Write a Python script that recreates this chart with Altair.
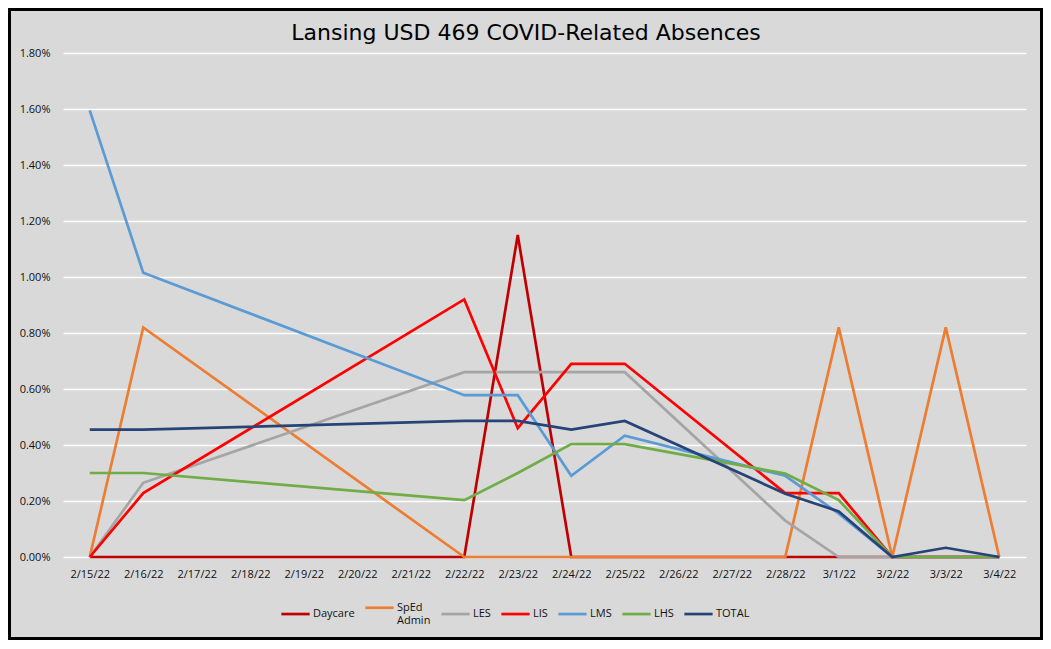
import altair as alt
import pandas as pd

chart_title = "Lansing USD 469 COVID-Related Absences"

all_dates = ["2/15/22", "2/16/22", "2/17/22", "2/18/22", "2/19/22", "2/20/22",
             "2/21/22", "2/22/22", "2/23/22", "2/24/22", "2/25/22", "2/26/22",
             "2/27/22", "2/28/22", "3/1/22", "3/2/22", "3/3/22", "3/4/22"]
obs_dates = ["2/15/22", "2/16/22", "2/22/22", "2/23/22", "2/24/22", "2/25/22",
             "2/28/22", "3/1/22", "3/2/22", "3/3/22", "3/4/22"]

series = ["Daycare", "SpEd Admin", "LES", "LIS", "LMS", "LHS", "TOTAL"]
colors = ["#c00000", "#ed7d31", "#a5a5a5", "#ff0000", "#5b9bd5", "#70ad47", "#264478"]
widths = [2.7, 2.7, 2.7, 2.7, 2.7, 2.7, 4.4]

# values in percent
daycare = [0, 0, 0, 1.15, 0, 0, 0, 0, 0, 0, 0]
sped_admin = [0, 0.82, 0, 0, 0, 0, 0, 0.82, 0, 0.82, 0]
les = [0, 0.265, 0.66, 0.66, 0.66, 0.66, 0.13, 0, 0, 0, 0]
lis = [0, 0.228, 0.92, 0.46, 0.69, 0.69, 0.228, 0.228, 0, 0, 0]
lms = [1.595, 1.015, 0.578, 0.578, 0.29, 0.433, 0.29, 0.155, 0, 0, 0]
lhs = [0.30, 0.30, 0.203, 0.30, 0.403, 0.403, 0.298, 0.203, 0, 0, 0]
total = [0.455, 0.455, 0.486, 0.486, 0.455, 0.486, 0.226, 0.163, 0, 0.033, 0]

y_ticks = [0, 0.002, 0.004, 0.006, 0.008, 0.010, 0.012, 0.014, 0.016, 0.018]

rows = []
for s_i, (name, vals) in enumerate(zip(series, [daycare, sped_admin, les, lis, lms, lhs, total])):
    for d, v in zip(obs_dates, vals):
        rows.append({"series": name, "date": d, "value": v / 100.0,
                     "sidx": s_i, "order": all_dates.index(d)})
df = pd.DataFrame(rows)

font = "Open Sans"

legend_kw = dict(title=None, orient="none", legendX=217, legendY=539,
                 direction="horizontal", columns=7,
                 symbolType="stroke", symbolSize=800, labelOffset=2,
                 columnPadding=4,
                 labelExpr="datum.label == 'SpEd Admin' ? ['SpEd', 'Admin'] : datum.label")

lines = alt.Chart(df).mark_line(strokeCap="butt", strokeJoin="miter").encode(
    x=alt.X("date:O", scale=alt.Scale(domain=all_dates, type="point", padding=0.5),
            axis=alt.Axis(title=None, labelAngle=0, labelPadding=11, ticks=False,
                          domain=False, grid=False)),
    y=alt.Y("value:Q", scale=alt.Scale(domain=[0, 0.018], nice=False, zero=True),
            axis=alt.Axis(title=None, values=y_ticks, format=".2%", labelPadding=13,
                          ticks=False, domain=False, grid=True)),
    color=alt.Color("series:N", sort=series,
                    scale=alt.Scale(domain=series, range=colors),
                    legend=alt.Legend(**legend_kw)),
    strokeWidth=alt.StrokeWidth("series:N", sort=series,
                                scale=alt.Scale(domain=series, range=widths),
                                legend=alt.Legend(**legend_kw)),
    detail="sidx:Q",
    order=alt.Order("order:Q"),
)

title_layer = alt.Chart(alt.Data(values=[{"t": chart_title}])).mark_text(
    font="DejaVu Sans", fontSize=22, color="#000000", align="center",
    baseline="alphabetic"
).encode(
    text="t:N", x=alt.value(463), y=alt.value(-13.5)
)

border = alt.Chart(alt.Data(values=[{"a": 1}])).mark_rect(
    fillOpacity=0, stroke="black", strokeWidth=3
).encode(
    x=alt.value(-53.5), x2=alt.value(978.5), y=alt.value(-43.5), y2=alt.value(585.5)
)

chart = alt.layer(lines, title_layer, border).properties(
    width=963, height=504,
    autosize=alt.AutoSizeParams(type="none"),
    padding={"left": 55, "top": 45, "right": 17, "bottom": 83},
).configure(
    background="#d9d9d9",
).configure_view(
    stroke=None,
).configure_axis(
    gridColor="#ffffff", gridWidth=1.5, labelFont=font, labelFontSize=11,
    labelColor="#111111",
).configure_legend(
    labelFont=font, labelFontSize=11, labelColor="#111111", padding=0,
)

chart.save("out.html", embed_options={"renderer": "svg", "actions": False})
